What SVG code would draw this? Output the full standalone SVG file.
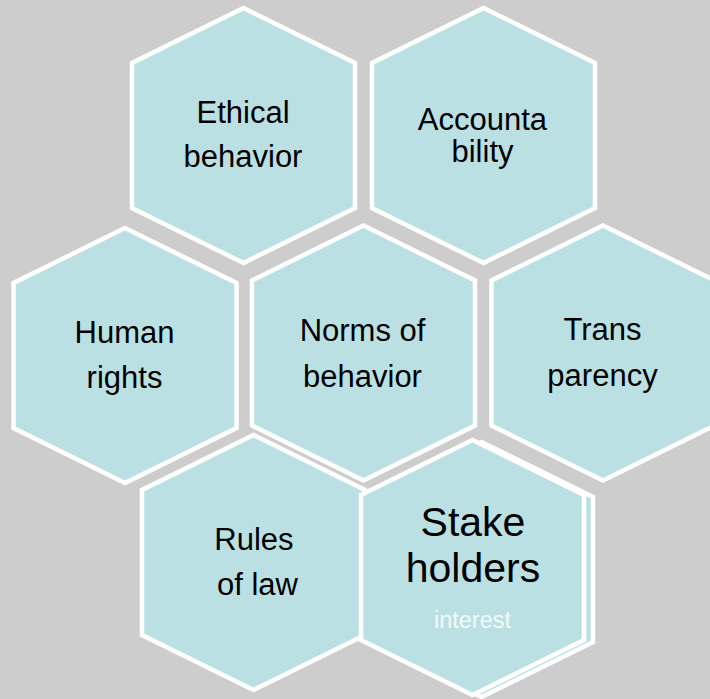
<svg xmlns="http://www.w3.org/2000/svg" width="710" height="699" viewBox="0 0 710 699">
  <defs>
    <style>
      .hex { fill: #bae0e3; stroke: #ffffff; stroke-width: 4.5; stroke-linejoin: miter; }
      .lbl { font-family: "Liberation Sans", Arial, sans-serif; font-size: 31px; fill: #000000; text-anchor: middle; }
      .big { font-family: "Liberation Sans", Arial, sans-serif; font-size: 41px; fill: #000000; text-anchor: middle; }
      .sub { font-family: "Liberation Sans", Arial, sans-serif; font-size: 23.5px; fill: #f4fafa; text-anchor: middle; }
    </style>
    <path id="hexshape" d="M0,-127.5 L111.5,-72.5 L111.5,72.5 L0,127.5 L-111.5,72.5 L-111.5,-72.5 Z"/>
  </defs>
  <rect x="0" y="0" width="710" height="699" fill="#cdcdcd"/>
  <g id="connectors"></g>

  <g id="ethical">
    <use href="#hexshape" class="hex" transform="translate(243.5,135.5)"/>
    <text class="lbl" x="243" y="122.5">Ethical</text>
    <text class="lbl" x="243" y="167">behavior</text>
  </g>

  <g id="accountability">
    <use href="#hexshape" class="hex" transform="translate(483.5,135.5)"/>
    <text class="lbl" x="482.5" y="129.5">Accounta</text>
    <text class="lbl" x="482.5" y="161.5">bility</text>
  </g>

  <g id="human-rights">
    <use href="#hexshape" class="hex" transform="translate(125,355.5)"/>
    <text class="lbl" x="124.5" y="342.5">Human</text>
    <text class="lbl" x="124.5" y="387.5">rights</text>
  </g>

  <g id="norms">
    <use href="#hexshape" class="hex" transform="translate(363.5,353)"/>
    <text class="lbl" x="362.5" y="341">Norms of</text>
    <text class="lbl" x="362.5" y="386.5">behavior</text>
  </g>

  <g id="transparency">
    <use href="#hexshape" class="hex" transform="translate(603,353)"/>
    <text class="lbl" x="602.5" y="340">Trans</text>
    <text class="lbl" x="602.5" y="385.5">parency</text>
  </g>

  <g id="rules-of-law">
    <use href="#hexshape" class="hex" transform="translate(253.5,562.5)"/>
    <text class="lbl" x="254" y="549.5">Rules</text>
    <text class="lbl" x="257.5" y="595">of law</text>
  </g>

  <g id="stakeholders">
    <use href="#hexshape" class="hex" transform="translate(481.5,569.5)"/>
    <use href="#hexshape" class="hex" transform="translate(472.5,567.5)"/>
    <text class="big" x="473" y="536">Stake</text>
    <text class="big" x="473" y="582">holders</text>
    <text class="sub" x="472.5" y="627.5">interest</text>
  </g>
</svg>
